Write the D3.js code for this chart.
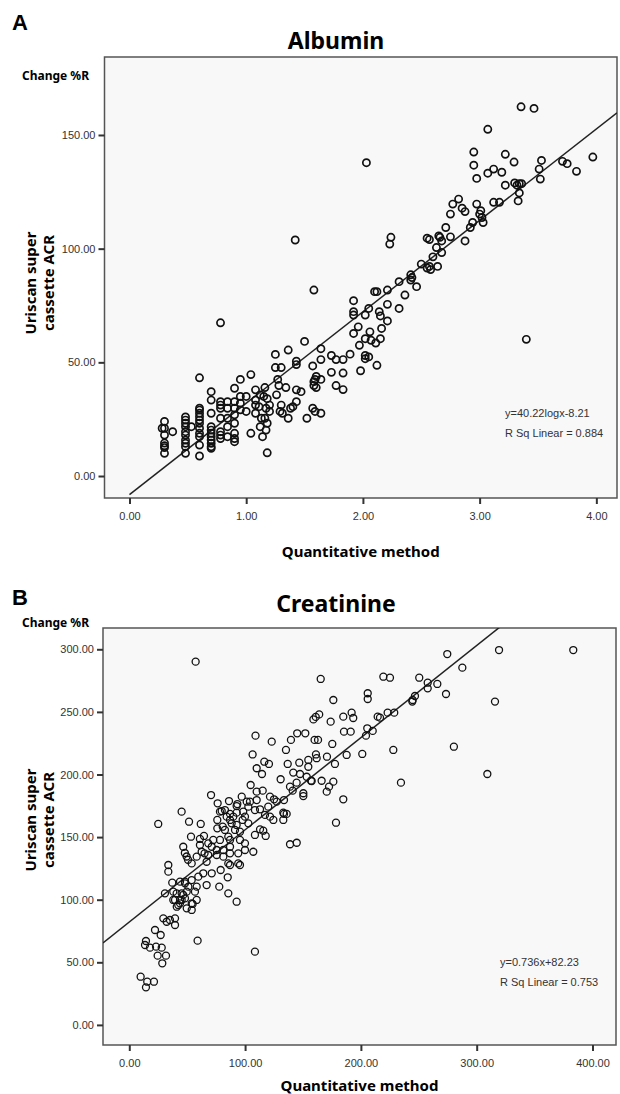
<!DOCTYPE html>
<html lang="en">
<head>
<meta charset="UTF-8">
<script src="https://d3js.org/d3.v7.min.js"></script>
<title>Albumin / Creatinine</title>
<style>
  body { margin: 0; background: #fff; }
  svg { display: block; }
</style>
</head>
<body>
<div id="chart"></div>
<script>
// panel A: log quantitative method vs uriscan change %R
var albuminPoints = [
  [0.30,24],[0.30,21],[0.28,21],[0.30,18],[0.30,14.5],[0.30,13.3],[0.30,12.5],[0.30,10],[0.37,19.5],
  [0.48,26],[0.48,24.6],[0.48,23.2],[0.48,21.7],[0.48,19.5],[0.48,18],[0.48,15.8],[0.48,14.4],[0.48,12.9],[0.48,10],[0.53,21.7],
  [0.60,43.2],[0.60,29.8],[0.60,29],[0.60,27.6],[0.60,26.1],[0.60,24.6],[0.60,23.2],[0.60,21],[0.60,18.8],[0.60,17.3],[0.60,13.6],[0.60,8.8],
  [0.70,37.1],[0.70,33.4],[0.70,27.6],[0.70,21.7],[0.70,20.2],[0.70,18.8],[0.70,17.3],[0.70,15.8],[0.70,14.4],[0.70,12.9],[0.70,12.2],
  [0.78,67.4],[0.78,32.7],[0.78,31.2],[0.78,29.8],[0.78,25.4],[0.78,19.5],[0.78,18],[0.78,16.5],
  [0.84,32.7],[0.84,29.8],[0.84,25.4],[0.84,21.7],[0.84,17.3],
  [0.90,38.6],[0.90,32.7],[0.90,29.8],[0.90,26.9],[0.90,23.2],[0.90,18.8],[0.90,16.5],[0.90,15.1],
  [0.95,42.5],[0.95,35],[0.95,32],[0.95,29.1],[1.0,35],[1.0,28.4],[1.04,44.6],[1.04,18.8],
  [1.08,37.9],[1.08,33.4],[1.08,31.2],[1.08,27.6],
  [1.12,35.7],[1.11,30.5],[1.13,25.4],[1.12,21.7],[1.14,17.3],
  [1.16,38.9],[1.15,35],[1.18,34],[1.17,29.8],[1.16,25.4],[1.18,23.2],[1.17,20.2],[1.18,10.2],
  [1.2,31.2],[1.2,28.4],
  [1.25,53.5],[1.25,47.7],[1.3,47.7],[1.27,42.5],[1.28,39.8],[1.26,35.7],[1.3,31.2],[1.29,28.4],[1.31,27.6],
  [1.34,38.9],[1.38,29.8],[1.36,25.4],[1.4,30.5],[1.36,55.4],
  [1.43,50.5],[1.43,49],[1.43,37.9],[1.43,32.7],[1.47,37.1],[1.5,59.2],[1.52,25.4],
  [1.57,48.4],[1.58,41.5],[1.58,39.8],[1.6,38.9],[1.59,42.5],[1.6,43.8],[1.57,29.8],[1.59,28.4],[1.58,81.8],
  [1.64,56],[1.64,51.2],[1.64,42.5],[1.64,27.6],[1.73,53],[1.73,45.6],[1.77,51.2],[1.77,39.8],
  [1.83,51.2],[1.83,45.3],[1.83,38],[1.89,53.6],
  [1.92,77.1],[1.92,72.3],[1.92,70.8],[1.92,62.7],[1.96,65.6],[1.97,57.5],[1.98,46.3],
  [2.02,70.8],[2.02,60.4],[2.02,53],[2.02,51.6],[2.05,73.7],[2.06,63.4],[2.07,59.7],[2.05,52.4],
  [2.1,81.1],[2.12,81.1],[2.12,48.7],[2.11,58.5],[2.14,72.3],[2.15,70.4],[2.16,64.9],[2.15,60.4],
  [2.21,81.8],[2.21,75.5],[2.21,68.2],[2.31,85.5],[2.31,73.7],[2.36,79.6],[2.41,86.2],[2.46,83.3],
  [3.4,60.1],[2.03,137.8],[1.42,103.8],
  [2.24,105],[2.23,102],[2.41,88.5],[2.42,87.3],[2.50,93.2],[2.55,104.6],[2.57,104],[2.55,91.5],[2.58,90.8],[2.57,92.2],
  [2.60,96.4],[2.63,100.5],[2.64,92.2],[2.65,105.6],[2.66,105],[2.675,103.4],[2.675,98.3],[2.71,109.3],
  [2.75,115.2],[2.75,105.2],[2.77,119.6],[2.82,121.8],[2.85,117.8],[2.875,116.3],[2.875,103.4],[2.92,109.3],[2.94,111.5],
  [2.95,142.5],[2.95,136.7],[2.975,119.6],[2.975,130.9],[3.0,115.2],[3.01,116.7],[3.02,113.7],[3.03,111.5],
  [3.07,152.5],[3.07,133.2],[3.12,135],[3.12,120.4],[3.17,120.4],[3.19,133.6],[3.22,141.5],[3.22,127.9],
  [3.295,138.1],[3.30,128.9],[3.32,127.9],[3.34,128.6],[3.36,128.6],[3.34,124.5],[3.33,121],
  [3.355,162.4],[3.466,161.7],[3.51,135],[3.53,138.8],[3.52,130.6],[3.71,138.4],[3.75,137.4],[3.83,134],[3.97,140.3]
];
var albuminFit = [40.22, -8.21];          // slope, intercept
var albuminXTicks = [0, 1, 2, 3, 4];
var albuminYTicks = [0, 50, 100, 150];
var albuminNotes = ['y=40.22logx-8.21', 'R Sq Linear = 0.884'];

// panel B: quantitative method vs uriscan change %R
var creatininePoints = [
  [57.3,290.1],[165.3,276.3],[176.2,259.5],[173.9,242.2],[159,244],[161,246],[164,248],[160,227.6],[163,227.6],
  [145,232.9],[152,232.9],[139.6,227.6],[123,226.2],[109,231],[106.5,216],[135.3,219.6],[175.3,224.4],[161.2,216],[161.8,213],
  [170.7,214.2],[116.6,210.2],[120.6,208.4],[110,205],[114.6,200.4],[136.8,208.4],[146.8,209.4],[154.6,211.6],[154.6,206.2],
  [141.6,201.5],[147.4,200.4],[153.2,198.2],[157.5,194.8],[166.1,195],[176.2,194.3],[170.5,186.3],[172.5,190.3],[130.7,196.2],
  [138.8,190.3],[150.3,185],[150.3,182.8],[133.6,168.5],[135.9,168.5],[104.8,191.6],[70.6,183.6],[45.2,170.3],
  [187.7,215.6],[177.6,208.4],[144.5,193.5],[156.9,195],[184.8,180.2],[178.5,161.5],[141.1,187.1],[110,186.3],[115.2,187.1],
  [97.1,182.3],[101.4,178.3],[104.2,178.3],[110,179.6],[121.5,182.3],[125,180.2],[127.3,178.3],[133.6,179.6],[76.3,177],
  [86.1,178.8],[93.3,176.4],[79.8,170.8],[82.6,171.6],[87,168.5],[92.7,174.8],[92.7,169.5],[98.4,170.3],[102.8,174.3],
  [108.5,171.6],[112.9,172.2],[117.2,167.7],[120,174.3],[133,169.5],[124.4,163.7],[133,163.7],[25,160.5],[51.6,162.3],[61.7,160.5],
  [76,163.7],[78.3,170.3],[80.7,158.3],[84.1,166.3],[87,163.7],[89.8,166.3],[88.4,161],[92.7,159.7],[97.9,163.7],[99.9,166.3],
  [91.3,155.7],[82.6,155.7],[76,157],[85.5,150.3],[95.6,154.3],[87,147.7],[78.3,147.7],[72.5,147.7],
  [53.3,150.3],[61,148.5],[64.5,150.9],[61,143.7],[68.2,145],[71.2,142.3],[46.6,142.3],[48,137.3],[49.5,134.5],[50.7,131.9],
  [53.9,129],[58.2,134.4],[62.5,138.3],[65,137],[68.2,135.7],[66.8,130.3],[75.5,139.7],[75.5,135.7],[81.2,139.7],[81.2,134.4],
  [87,142.3],[87,137],[94.1,137],[99.9,139.7],[107.1,138.3],[108.5,151.7],[112.9,156.2],[115.7,155.1],[117.8,150.9],[121.5,166.3],
  [102.8,161],[95.6,147.7],[99.9,145],[85.5,129],[87,127.7],[94.1,129],[95.6,127.7],[78.9,123.7],[71.2,121.1],[63.9,121.1],
  [33.7,127.7],[33.7,122.4],[59.6,118.4],[66.8,111.7],[77.7,110.4],[85,117.9],[138.8,144.3],[144.6,145.5],
  [43.8,114.4],[48.1,113.1],[51,110.4],[53.9,115.7],[58.2,110.4],[56.7,106.4],[45.2,105.1],[40.9,105.1],[38,99.8],[43.8,99.8],
  [48.1,101.1],[53.9,97.1],[42.3,95.8],[30.8,105.1],[92.7,98.4],
  [37.1,113.6],[38,106.4],[39.5,99.8],[41,94.4],[43.8,97.1],[45.2,99.8],[46.6,103.8],[49.6,106.4],[48.1,114.4],[53.9,91.8],
  [49.6,93.1],[54.7,96.6],[58.2,99.8],[59,67.3],[108.5,58.5],[85.5,105.1],[29.4,85.1],[32.3,82.4],[39.5,85.1],[39.5,79.8],
  [35.1,83.8],[22.2,75.8],[27.1,71.8],[14.4,67],[13.6,63.8],[17.9,61.7],[23.1,62.5],[28,61.7],[24.5,55.3],[31.7,55.3],
  [28.5,49.2],[9.8,38.5],[15.5,34.5],[14.4,30],[21.3,34.5],
  [274.6,296.2],[319.3,299.4],[383.4,299.4],[287.6,285.3],[219.4,278.1],[225.1,277.3],[250.4,277.3],[257.7,273.3],[257.7,268.8],
  [266,272.3],[273.5,264.3],[315.8,258.2],[244.7,259.5],[246.7,262.7],[244.4,258.2],[205.9,264.9],[205.9,260.3],[184.8,246.2],
  [192,249.4],[193.4,245.1],[214.5,246.2],[216.5,245.4],[223.1,249.4],[228.8,249.4],[205.5,236.9],[204.4,231],[210.2,234.8],
  [185.4,234.2],[191.2,234.2],[201.2,216.4],[228,219.6],[280.3,222.2],[309.2,200.4],[234.6,193.5]
];
var creatinineFit = [0.736, 82.23];
var creatinineXTicks = [0, 100, 200, 300, 400];
var creatinineYTicks = [0, 50, 100, 150, 200, 250, 300];
var creatinineNotes = ['y=0.736x+82.23', 'R Sq Linear = 0.753'];

var width = 620, height = 1094;
var fmt = d3.format('.2f');
var tickFont = '"Liberation Sans", Arial, sans-serif';
var boldFont = '"Noto Sans", "Liberation Sans", sans-serif';

var svg = d3.select('#chart').append('svg')
  .attr('width', width)
  .attr('height', height);

function drawPanel(p) {
  var g = svg.append('g');

  var x = d3.scaleLinear().domain(p.xDomain).range([p.left, p.right]);
  var y = d3.scaleLinear().domain(p.yDomain).range([p.bottom, p.top]);

  // panel letter + title
  g.append('text').attr('x', 12).attr('y', p.letterY)
    .attr('font-family', '"Liberation Sans", Arial, sans-serif').attr('font-weight', 'bold')
    .attr('font-size', 22).text(p.letter);
  g.append('text').attr('x', 336).attr('y', p.titleY)
    .attr('text-anchor', 'middle').attr('font-family', boldFont).attr('font-weight', 'bold')
    .attr('font-size', 23).text(p.title);

  // plot area
  g.append('rect')
    .attr('x', p.left).attr('y', p.top)
    .attr('width', p.right - p.left).attr('height', p.bottom - p.top)
    .attr('fill', '#f8f8f8').attr('stroke', '#555').attr('stroke-width', 1.5);

  g.append('clipPath').attr('id', 'clip' + p.letter)
    .append('rect')
    .attr('x', p.left).attr('y', p.top)
    .attr('width', p.right - p.left).attr('height', p.bottom - p.top);

  // axes
  var yAxis = g.append('g')
    .attr('transform', 'translate(' + p.left + ',0)')
    .call(d3.axisLeft(y).tickValues(p.yTicks).tickSize(6).tickPadding(3).tickFormat(fmt));
  var xAxis = g.append('g')
    .attr('transform', 'translate(0,' + p.bottom + ')')
    .call(d3.axisBottom(x).tickValues(p.xTicks).tickSize(6).tickPadding(8).tickFormat(fmt));
  [xAxis, yAxis].forEach(function (a) {
    a.select('.domain').remove();
    a.selectAll('.tick line').attr('stroke', '#333').attr('stroke-width', 2);
    a.selectAll('.tick text').attr('fill', '#333')
      .attr('font-family', tickFont).attr('font-size', 11);
  });

  // axis titles
  g.append('text').attr('x', 22).attr('y', p.unitY)
    .attr('font-family', boldFont).attr('font-weight', 'bold').attr('font-size', 12)
    .text('Change %R');
  g.append('text').attr('x', (p.left + p.right) / 2).attr('y', p.xTitleY)
    .attr('text-anchor', 'middle').attr('font-family', boldFont).attr('font-weight', 'bold')
    .attr('font-size', 15).text('Quantitative method');
  var yt = g.append('text')
    .attr('transform', 'translate(36,' + p.yTitleMid + ') rotate(-90)')
    .attr('text-anchor', 'middle').attr('font-family', boldFont).attr('font-weight', 'bold')
    .attr('font-size', 15);
  yt.append('tspan').attr('x', 0).attr('dy', 0).text('Uriscan super');
  yt.append('tspan').attr('x', 0).attr('dy', 18).text('cassette ACR');

  var inner = g.append('g').attr('clip-path', 'url(#clip' + p.letter + ')');

  // fit line
  var lineX = [p.fitFrom, p.xDomain[1]];
  inner.append('path')
    .datum(lineX.map(function (v) { return [v, p.fit[0] * v + p.fit[1]]; }))
    .attr('d', d3.line().x(function (d) { return x(d[0]); }).y(function (d) { return y(d[1]); }))
    .attr('fill', 'none').attr('stroke', '#222').attr('stroke-width', 1.5);

  // points
  inner.selectAll('circle')
    .data(p.points)
    .enter().append('circle')
    .attr('cx', function (d) { return x(d[0]); })
    .attr('cy', function (d) { return y(d[1]); })
    .attr('r', p.r)
    .attr('fill', 'none')
    .attr('stroke', '#111')
    .attr('stroke-width', p.sw);

  // equation + r squared
  g.selectAll('.note')
    .data(p.notes)
    .enter().append('text')
    .attr('x', p.noteX).attr('y', function (d, i) { return p.noteY + i * 20; })
    .attr('font-family', tickFont).attr('font-size', 11).attr('fill', '#333')
    .text(function (d) { return d; });
}

drawPanel({
  letter: 'A', title: 'Albumin',
  left: 104.5, right: 617, top: 57, bottom: 498,
  xDomain: [-0.214, 4.177], yDomain: [-9.67, 184.3],
  xTicks: albuminXTicks, yTicks: albuminYTicks,
  points: albuminPoints, fit: albuminFit, fitFrom: 0,
  notes: albuminNotes, noteX: 505, noteY: 417,
  letterY: 30, titleY: 49, unitY: 80,
  xTitleY: 557, yTitleMid: 283, r: 3.6, sw: 1.7
});

drawPanel({
  letter: 'B', title: 'Creatinine',
  left: 103, right: 616, top: 628, bottom: 1045,
  xDomain: [-22.7, 420.3], yDomain: [-16.05, 317],
  xTicks: creatinineXTicks, yTicks: creatinineYTicks,
  points: creatininePoints, fit: creatinineFit, fitFrom: -22.7,
  notes: creatinineNotes, noteX: 500, noteY: 966,
  letterY: 605, titleY: 612, unitY: 627,
  xTitleY: 1091, yTitleMid: 820, r: 3.5, sw: 1.3
});
</script>
</body>
</html>
